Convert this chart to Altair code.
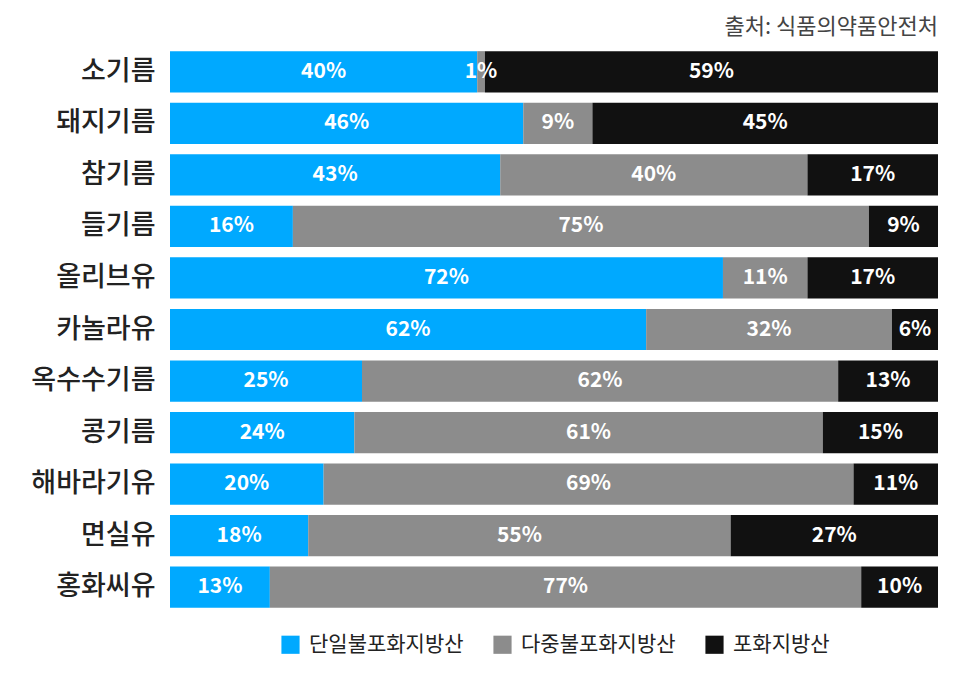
import altair as alt
import pandas as pd

# 지방산 구성 비율 (%)
oils = ["소기름", "돼지기름", "참기름", "들기름", "올리브유", "카놀라유",
        "옥수수기름", "콩기름", "해바라기유", "면실유", "홍화씨유"]
mono = [40, 46, 43, 16, 72, 62, 25, 24, 20, 18, 13]
poly = [1, 9, 40, 75, 11, 32, 62, 61, 69, 55, 77]
sat = [59, 45, 17, 9, 17, 6, 13, 15, 11, 27, 10]

kinds = ["단일불포화지방산", "다중불포화지방산", "포화지방산"]
colors = ["#00a9ff", "#8c8c8c", "#111111"]

FONT = "Noto Sans CJK KR"

rows = []
for i, oil in enumerate(oils):
    start = 0
    for k, (kind, v) in enumerate(zip(kinds, [mono[i], poly[i], sat[i]])):
        rows.append({"oil": oil, "kind": kind, "k": k, "value": v,
                     "start": start, "end": start + v, "mid": start + v / 2,
                     "label": f"{v}%"})
        start += v
df = pd.DataFrame(rows)

y = alt.Y("oil:N", sort=oils, title=None,
          scale=alt.Scale(paddingInner=0.2, paddingOuter=0.1),
          axis=alt.Axis(ticks=False, domain=False, labelFontSize=27,
                        labelFont=FONT, labelFontWeight=500,
                        labelColor="#222222", labelPadding=15))

bars = alt.Chart(df).mark_bar().encode(
    y=y,
    x=alt.X("start:Q", scale=alt.Scale(domain=[0, 100]), axis=None),
    x2="end:Q",
    color=alt.Color("kind:N", sort=kinds,
                    scale=alt.Scale(domain=kinds, range=colors),
                    legend=alt.Legend(title=None, orient="none", direction="horizontal",
                                      legendX=110, legendY=588,
                                      symbolType="square", symbolSize=330,
                                      symbolStrokeWidth=0, labelFontSize=21,
                                      labelFont=FONT, labelColor="#222222",
                                      labelOffset=8, columnPadding=28)),
)

labels = alt.Chart(df).mark_text(color="white", fontSize=21, fontWeight="bold",
                                 font=FONT).encode(
    y=alt.Y("oil:N", sort=oils),
    x=alt.X("mid:Q"),
    text="label:N",
)

chart = (bars + labels).properties(
    width=768, height=567,
    autosize=alt.AutoSizeParams(type="none"),
    padding={"left": 162, "top": 38, "right": 12, "bottom": 50},
    title=alt.TitleParams("출처: 식품의약품안전처", anchor="end", frame="group",
                          fontSize=22, fontWeight="normal", font=FONT,
                          color="#444444", offset=7),
).configure_view(stroke=None)

chart.save("out.html", embed_options={"renderer": "svg", "actions": False})
